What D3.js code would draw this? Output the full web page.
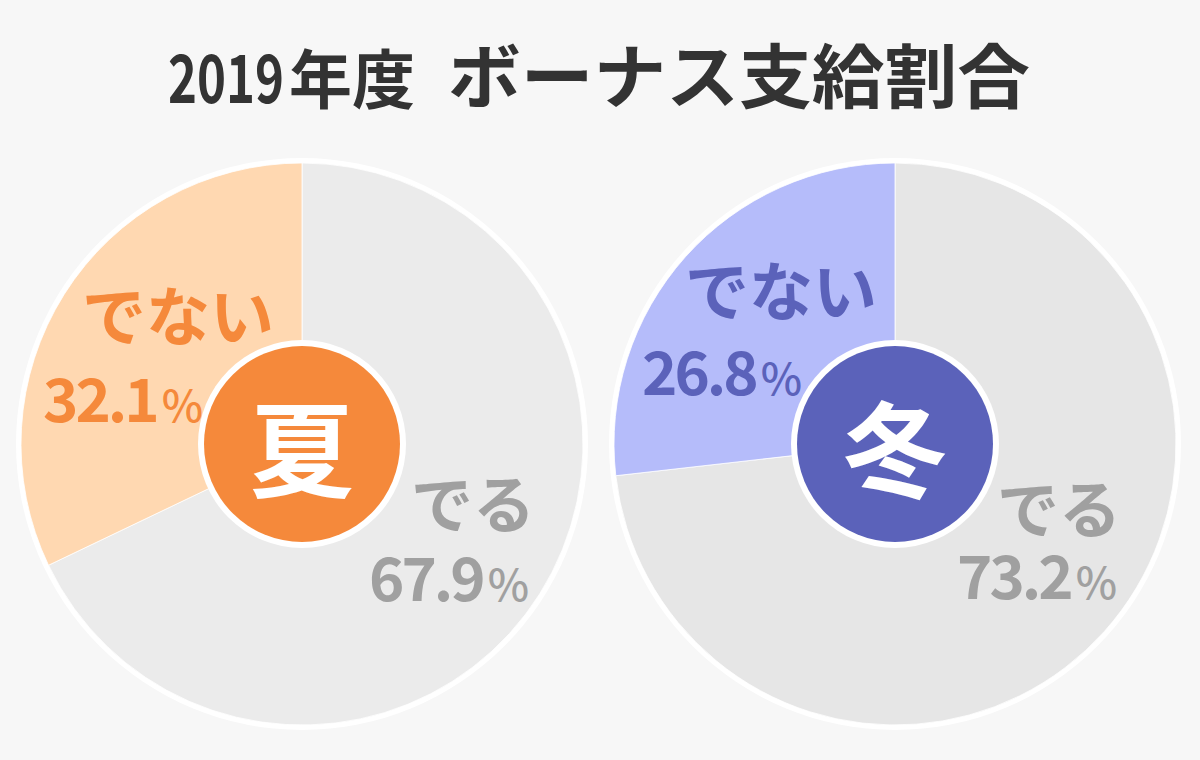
<!DOCTYPE html>
<html>
<head>
<meta charset="utf-8">
<script src="https://cdn.jsdelivr.net/npm/d3@7"></script>
<style>
  html, body { margin: 0; padding: 0; background: #f7f7f7; }
  svg { display: block; }
  text { font-family: "Noto Sans CJK JP", "Noto Sans", sans-serif; font-weight: 700; }
</style>
</head>
<body>
<svg id="chart" width="1200" height="760"></svg>
<script>
// ---- data ----
const titleParts = ["2019", "年度", "ボーナス支給割合"];
const seasons = ["夏", "冬"];
const categories = ["でる", "でない"];
const summerValues = [67.9, 32.1];
const winterValues = [73.2, 26.8];

// ---- styles / layout ----
const W = 1200, H = 760;
const svg = d3.select("#chart");
svg.append("rect").attr("width", W).attr("height", H).attr("fill", "#f7f7f7");

const themes = [
  { cx: 302, cy: 444, main: "#f5893b", light: "#ffd8b1", grey: "#ebebeb" },
  { cx: 895, cy: 444, main: "#5b62ba", light: "#b5bcfa", grey: "#e6e6e6" }
];
const labelGrey = "#a0a0a0";
const R = 281, ringR = 286, innerR = 98, innerRingR = 104;

// label offsets relative to each pie centre
const labelPos = [
  { nai: [-124, -132], naiPct: [-179, -22], deru: [171, 57], deruPct: [147, 157] },
  { nai: [-114, -157], naiPct: [-173, -49], deru: [164, 62], deruPct: [142, 155] }
];

// title, in three runs, each squeezed horizontally to its measured span
const titleRuns = [
  { x: 168, len: 116, size: 66 },
  { x: 289, len: 126, size: 64 },
  { x: 448, len: 582, size: 70 }
];
titleParts.forEach((s, i) => {
  const r = titleRuns[i];
  const t = svg.append("text")
    .attr("x", 0).attr("y", 0)
    .attr("fill", "#333333")
    .attr("font-size", r.size)
    .text(s);
  const natural = t.node().getComputedTextLength();
  const k = r.len / natural;
  t.attr("transform", `translate(${r.x},103) scale(${k},1)`);
});

const pie = d3.pie().sort(null).value(d => d);
const arc = d3.arc().innerRadius(0).outerRadius(R);
const fmt = d3.format(".1f");

const seriesList = [summerValues, winterValues];

function pctLabel(g, pos, value, color) {
  const t = g.append("text")
    .attr("x", pos[0]).attr("y", pos[1])
    .attr("text-anchor", "middle")
    .attr("fill", color).attr("font-size", 60)
    .attr("letter-spacing", -3);
  t.append("tspan").text(fmt(value));
  t.append("tspan").attr("font-size", 44).attr("font-weight", 500)
    .attr("dx", 5).attr("letter-spacing", 0).text("%");
}

seriesList.forEach((vals, i) => {
  const t = themes[i];
  const g = svg.append("g").attr("transform", `translate(${t.cx},${t.cy})`);
  g.append("circle").attr("r", ringR).attr("fill", "#ffffff");
  g.selectAll("path.slice")
    .data(pie(vals))
    .join("path")
    .attr("class", "slice")
    .attr("d", arc)
    .attr("fill", (d, j) => j === 0 ? t.grey : t.light)
    .attr("stroke", "#ffffff")
    .attr("stroke-width", 0.8);

  // centre badge
  g.append("circle").attr("r", innerRingR).attr("fill", "#ffffff");
  g.append("circle").attr("r", innerR).attr("fill", t.main);
  g.append("text")
    .attr("x", 0).attr("y", 0)
    .attr("text-anchor", "middle")
    .attr("dominant-baseline", "central")
    .attr("fill", "#ffffff")
    .attr("font-size", 104)
    .text(seasons[i]);

  const lp = labelPos[i];

  // でない label
  g.append("text")
    .attr("x", lp.nai[0]).attr("y", lp.nai[1])
    .attr("text-anchor", "middle").attr("dominant-baseline", "central")
    .attr("fill", t.main).attr("font-size", 64)
    .text(categories[1]);
  pctLabel(g, lp.naiPct, vals[1], t.main);

  // でる label
  g.append("text")
    .attr("x", lp.deru[0]).attr("y", lp.deru[1])
    .attr("text-anchor", "middle").attr("dominant-baseline", "central")
    .attr("fill", labelGrey).attr("font-size", 62)
    .text(categories[0]);
  pctLabel(g, lp.deruPct, vals[0], labelGrey);
});
</script>
</body>
</html>
